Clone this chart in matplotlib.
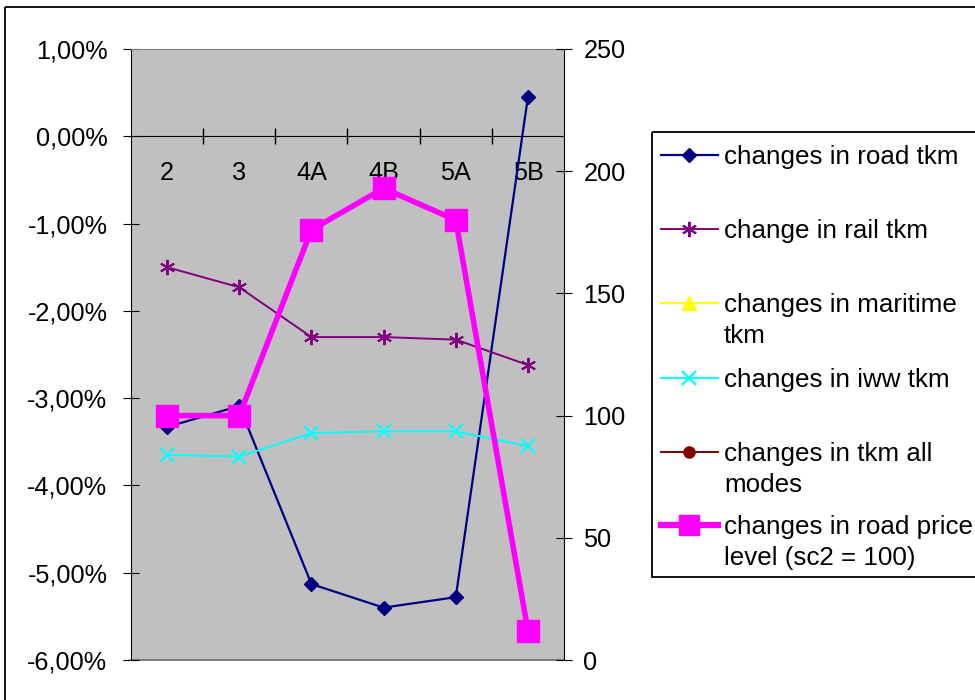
import matplotlib
matplotlib.use("Agg")
import matplotlib.pyplot as plt
import numpy as np
from matplotlib.ticker import FuncFormatter, FixedLocator
from matplotlib.lines import Line2D
from matplotlib.patches import Rectangle

plt.rcParams['font.family'] = ['Liberation Sans', 'DejaVu Sans']

categories = ["2", "3", "4A", "4B", "5A", "5B"]
road_tkm = [-3.33, -3.09, -5.13, -5.40, -5.28, 0.45]
rail_tkm = [-1.50, -1.73, -2.30, -2.30, -2.33, -2.62]
maritime_tkm = [np.nan] * 6
iww_tkm = [-3.65, -3.67, -3.40, -3.38, -3.38, -3.55]
all_modes_tkm = [np.nan] * 6
road_price = [100, 100, 176, 193, 180, 12]

labels = ["changes in road tkm", "change in rail tkm", "changes in maritime\ntkm",
          "changes in iww tkm", "changes in tkm all\nmodes",
          "changes in road price\nlevel (sc2 = 100)"]

W, H = 975, 700
fig = plt.figure(figsize=(9.75, 7.0), dpi=100)
FS = 18.2
LFS = 18.7

L, R, T, B = 131, 564, 49, 660
ax = fig.add_axes([L / W, 1 - B / H, (R - L) / W, (B - T) / H])
ax.set_facecolor('#C0C0C0')
x = np.arange(len(categories))
ax.set_xlim(-0.5, len(categories) - 0.5)
ax.set_ylim(-6, 1)

ax.plot(x, road_tkm, color='#000080', lw=1.6, marker='D', ms=7.5, zorder=3)
ax.plot(x, rail_tkm, color='#800080', lw=1.4, marker=(6, 2, 0), ms=11, mew=1.4, zorder=3)
ax.plot(x, maritime_tkm, color='#FFFF00', lw=1.4, marker='^', ms=9, zorder=3)
ax.plot(x, iww_tkm, color='#00FFFF', lw=1.4, marker='x', ms=10, mew=1.6, zorder=3)
ax.plot(x, all_modes_tkm, color='#800000', lw=1.4, marker='o', ms=8, zorder=3)

# x-axis at zero
ax.spines['bottom'].set_position(('data', 0))
ax.spines['bottom'].set_color('black')
ax.spines['top'].set_color('#808080')
ax.spines['left'].set_color('black')
ax.spines['right'].set_color('black')
ax.axhline(-6, color='#808080', lw=1.5, zorder=1, clip_on=False)
ax.xaxis.set_major_locator(FixedLocator(x))
ax.xaxis.set_minor_locator(FixedLocator(np.arange(0.5, len(categories) - 1, 1)))
ax.set_xticklabels(categories, fontsize=FS)
ax.tick_params(axis='x', which='major', length=0, pad=18)
ax.tick_params(axis='x', which='minor', direction='inout', length=11, width=1)

ax.yaxis.set_major_locator(FixedLocator(np.arange(-6, 1.01, 1)))
ax.yaxis.set_major_formatter(FuncFormatter(lambda v, p: ("%.2f%%" % v).replace('.', ',')))
ax.tick_params(axis='y', direction='inout', length=12, labelsize=FS, pad=11)

ax2 = ax.twinx()
ax2.set_ylim(0, 250)
ax2.yaxis.set_major_locator(FixedLocator(np.arange(0, 251, 50)))
ax2.tick_params(axis='y', direction='inout', length=12, labelsize=FS, pad=8)
for s in ax2.spines.values():
    s.set_visible(False)
ax2.plot(x, road_price, color='#FF00FF', lw=4, marker='s', ms=16, zorder=4)

# overlay for legend and border, in pixel coordinates
ov = fig.add_axes([0, 0, 1, 1], facecolor='none')
ov.set_xlim(0, W)
ov.set_ylim(H, 0)
ov.axis('off')
ov.add_patch(Rectangle((5, 7), W + 10, H, fill=False, ec='black', lw=1.3, clip_on=False))
ov.add_patch(Rectangle((652, 132), W, 445, fill=False, ec='black', lw=1.3, clip_on=False))

styles = [
    dict(color='#000080', lw=1.6, marker='D', ms=7.5),
    dict(color='#800080', lw=1.4, marker=(6, 2, 0), ms=11, mew=1.4),
    dict(color='#FFFF00', lw=1.4, marker='^', ms=10),
    dict(color='#00FFFF', lw=1.4, marker='x', ms=10, mew=1.6),
    dict(color='#800000', lw=1.4, marker='o', ms=8),
    dict(color='#FF00FF', lw=4.5, marker='s', ms=14),
]
rows = [155, 229, 303, 378, 452, 525]
for yy, st, lab in zip(rows, styles, labels):
    ov.add_line(Line2D([661, 718], [yy, yy], **{k: v for k, v in st.items() if k not in ('marker', 'ms', 'mew')}))
    ov.add_line(Line2D([689], [yy], linestyle='none', color=st['color'], marker=st['marker'],
                       ms=st['ms'], mew=st.get('mew', 1)))
    ov.text(724, yy - 10, lab, fontsize=LFS, va='top', ha='left', linespacing=1.38)

fig.savefig("out.png", dpi=100)
